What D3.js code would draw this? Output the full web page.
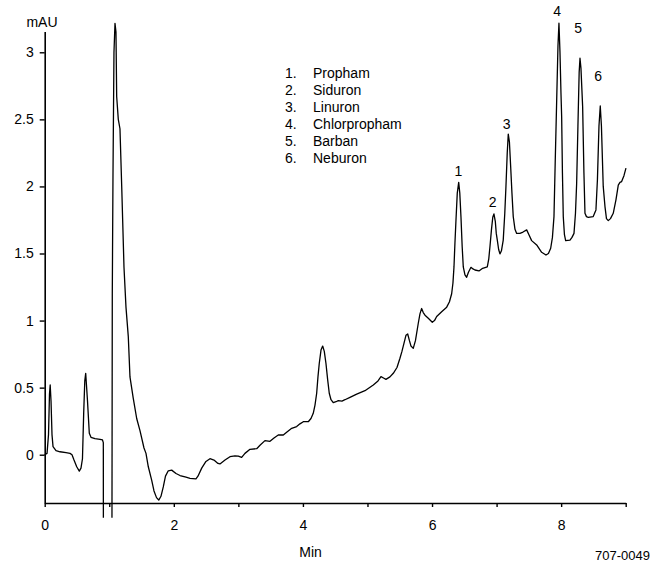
<!DOCTYPE html>
<html>
<head>
<meta charset="utf-8">
<script src="https://cdn.jsdelivr.net/npm/d3@7"></script>
<style>
  html, body { margin: 0; padding: 0; background: #fff; }
  svg { display: block; }
  text { font-family: "Liberation Sans", Arial, sans-serif; fill: #000; }
</style>
</head>
<body>
<svg id="chart" width="661" height="565"></svg>
<script>
// ---- data ----
const times = [
  0, 0.036, 0.059, 0.074, 0.085, 0.098, 0.113, 0.129, 0.175, 0.237, 0.330, 0.392, 0.423, 0.454,
  0.496, 0.536, 0.562, 0.585, 0.604, 0.621, 0.635, 0.647, 0.663, 0.691, 0.717, 0.779, 0.857,
  0.895, 0.908, 0.909, 0.975, 1.042, 1.047, 1.058, 1.073, 1.089, 1.104, 1.115, 1.140, 1.166,
  1.193, 1.228, 1.259, 1.295, 1.321, 1.372, 1.425, 1.476, 1.538, 1.569, 1.605, 1.657, 1.693,
  1.732, 1.767, 1.801, 1.837, 1.871, 1.914, 1.967, 2.034, 2.096, 2.189, 2.251, 2.343, 2.374,
  2.432, 2.498, 2.560, 2.622, 2.684, 2.715, 2.793, 2.870, 2.948, 2.999, 3.051, 3.102, 3.180,
  3.284, 3.335, 3.412, 3.490, 3.552, 3.618, 3.696, 3.753, 3.826, 3.903, 3.954, 4.006, 4.083,
  4.125, 4.160, 4.187, 4.213, 4.233, 4.253, 4.280, 4.306, 4.331, 4.357, 4.383, 4.408, 4.435,
  4.470, 4.512, 4.548, 4.605, 4.651, 4.729, 4.833, 4.961, 5.090, 5.163, 5.209, 5.255, 5.286,
  5.348, 5.400, 5.457, 5.503, 5.534, 5.565, 5.596, 5.623, 5.650, 5.674, 5.709, 5.743, 5.787,
  5.813, 5.839, 5.864, 5.891, 5.942, 6.004, 6.038, 6.072, 6.149, 6.227, 6.270, 6.304, 6.324,
  6.340, 6.355, 6.371, 6.391, 6.413, 6.430, 6.448, 6.467, 6.484, 6.510, 6.536, 6.564, 6.603,
  6.634, 6.665, 6.727, 6.784, 6.856, 6.879, 6.897, 6.921, 6.941, 6.959, 6.980, 6.995, 7.011,
  7.032, 7.052, 7.075, 7.103, 7.127, 7.145, 7.165, 7.181, 7.199, 7.218, 7.238, 7.258, 7.285,
  7.311, 7.362, 7.409, 7.466, 7.501, 7.543, 7.621, 7.698, 7.765, 7.803, 7.838, 7.865, 7.889,
  7.909, 7.931, 7.951, 7.966, 7.982, 7.997, 8.008, 8.020, 8.033, 8.051, 8.070, 8.137, 8.168,
  8.199, 8.222, 8.240, 8.260, 8.279, 8.292, 8.307, 8.333, 8.353, 8.369, 8.392, 8.420, 8.497,
  8.539, 8.562, 8.586, 8.606, 8.624, 8.652, 8.679, 8.702, 8.730, 8.764, 8.807, 8.849, 8.885,
  8.911, 8.937, 8.973, 9.004
];
const absorbance = [
  0, 0.01, 0.15, 0.45, 0.52, 0.40, 0.15, 0.06, 0.03, 0.022, 0.015, 0.01, 0.0, -0.04,
  -0.09, -0.122, -0.10, -0.03, 0.31, 0.55, 0.607, 0.52, 0.40, 0.16, 0.13, 0.12, 0.115,
  0.11, 0.09, -0.47, null, -0.47, 1.2, 2.1, 3.0, 3.216, 3.15, 2.67, 2.50, 2.43,
  2.0, 1.40, 1.10, 0.88, 0.58, 0.42, 0.27, 0.18, 0.05, 0.01, -0.09, -0.19, -0.27,
  -0.32, -0.338, -0.31, -0.24, -0.16, -0.12, -0.115, -0.14, -0.155, -0.168, -0.176, -0.18, -0.16,
  -0.10, -0.05, -0.03, -0.04, -0.065, -0.069, -0.04, -0.015, -0.008, -0.01, -0.02, 0.01, 0.04,
  0.045, 0.07, 0.105, 0.10, 0.125, 0.147, 0.147, 0.17, 0.197, 0.21, 0.23, 0.246, 0.246,
  0.27, 0.309, 0.37, 0.458, 0.58, 0.68, 0.78, 0.81, 0.77, 0.68, 0.56, 0.458, 0.41,
  0.388, 0.395, 0.403, 0.40, 0.41, 0.428, 0.452, 0.477, 0.52, 0.55, 0.582, 0.57, 0.562,
  0.58, 0.607, 0.65, 0.719, 0.77, 0.83, 0.89, 0.90, 0.85, 0.81, 0.793, 0.85, 0.98,
  1.05, 1.09, 1.06, 1.04, 1.017, 0.987, 1.00, 1.03, 1.066, 1.10, 1.14, 1.20, 1.28,
  1.40, 1.58, 1.75, 1.95, 2.03, 1.95, 1.775, 1.55, 1.40, 1.34, 1.323, 1.36, 1.397,
  1.385, 1.377, 1.37, 1.39, 1.40, 1.46, 1.55, 1.68, 1.77, 1.795, 1.74, 1.65, 1.60,
  1.53, 1.497, 1.52, 1.60, 1.80, 2.0, 2.25, 2.39, 2.33, 2.148, 1.95, 1.775, 1.68,
  1.65, 1.65, 1.66, 1.676, 1.64, 1.596, 1.564, 1.509, 1.489, 1.50, 1.539, 1.62, 1.775,
  2.2, 2.645, 3.05, 3.217, 3.0, 2.7, 2.52, 2.1, 1.775, 1.64, 1.596, 1.60, 1.62,
  1.65, 1.80, 2.02, 2.45, 2.85, 2.956, 2.88, 2.595, 2.1, 1.80, 1.775, 1.77, 1.775,
  1.825, 2.05, 2.45, 2.60, 2.45, 2.0, 1.85, 1.76, 1.745, 1.76, 1.80, 1.90, 2.01,
  2.03, 2.036, 2.08, 2.136
];
const yTicks = [0, 0.5, 1, 1.5, 2, 2.5, 3];
const xTicks = [0, 1, 2, 3, 4, 5, 6, 7, 8, 9];
const xTickLabels = ["0", "", "2", "", "4", "", "6", "", "8", ""];
const peakNumbers = ["1", "2", "3", "4", "5", "6"];
const peakLabelTime = [6.41, 6.94, 7.156, 7.94, 8.265, 8.575];
const peakLabelValue = [2.117, 1.886, 2.466, 3.308, 3.179, 2.823];
const compounds = ["Propham", "Siduron", "Linuron", "Chlorpropham", "Barban", "Neburon"];
const yAxisTitle = "mAU";
const xAxisTitle = "Min";
const figureCode = "707-0049";

// ---- chart ----
const svg = d3.select("#chart");
const x = d3.scaleLinear().domain([0, 9]).range([44.7, 625.7]);
const y = d3.scaleLinear().domain([-0.36, 3.155]).range([503, 31.5]);

const fontSize = 14;

// x axis
const xAxis = svg.append("g")
  .attr("transform", `translate(0,${y(-0.36)})`)
  .call(d3.axisBottom(x).tickValues(xTicks).tickSize(4).tickSizeOuter(0).tickPadding(13)
    .tickFormat((d, i) => xTickLabels[i]));
// y axis
const yAxis = svg.append("g")
  .attr("transform", `translate(${x(0)},0)`)
  .call(d3.axisLeft(y).tickValues(yTicks).tickSize(5).tickSizeOuter(0).tickPadding(6)
    .tickFormat(d3.format("")));

[xAxis, yAxis].forEach(g => {
  g.selectAll("path.domain").attr("stroke", "#000").attr("stroke-width", 1.6);
  g.selectAll(".tick line").attr("stroke", "#000").attr("stroke-width", 1.4);
  g.selectAll(".tick text").attr("font-size", fontSize)
    .attr("font-family", '"Liberation Sans", Arial, sans-serif').attr("fill", "#000");
});

// trace
const pts = times.map((t, i) => ({ t, v: absorbance[i] }));
const line = d3.line()
  .defined(d => d.v !== null)
  .x(d => x(d.t))
  .y(d => y(d.v));
svg.append("path")
  .datum(pts)
  .attr("fill", "none")
  .attr("stroke", "#000")
  .attr("stroke-width", 1.3)
  .attr("stroke-linejoin", "round")
  .attr("d", line);

// axis titles
svg.append("text").attr("x", 42).attr("y", 27).attr("text-anchor", "middle")
  .attr("font-size", fontSize).text(yAxisTitle);
svg.append("text").attr("x", 310.5).attr("y", 557).attr("text-anchor", "middle")
  .attr("font-size", fontSize).text(xAxisTitle);
svg.append("text").attr("x", 595).attr("y", 560)
  .attr("font-size", 13).text(figureCode);

// peak labels
svg.append("g").selectAll("text")
  .data(peakNumbers)
  .join("text")
  .attr("x", (d, i) => x(peakLabelTime[i]))
  .attr("y", (d, i) => y(peakLabelValue[i]))
  .attr("dy", "0.36em")
  .attr("text-anchor", "middle")
  .attr("font-size", fontSize)
  .text(d => d);

// legend
const legend = svg.append("g");
compounds.forEach((name, i) => {
  legend.append("text").attr("x", 285).attr("y", 78 + i * 17)
    .attr("font-size", fontSize).text(peakNumbers[i] + ".");
  legend.append("text").attr("x", 313).attr("y", 78 + i * 17)
    .attr("font-size", fontSize).text(name);
});
</script>
</body>
</html>
